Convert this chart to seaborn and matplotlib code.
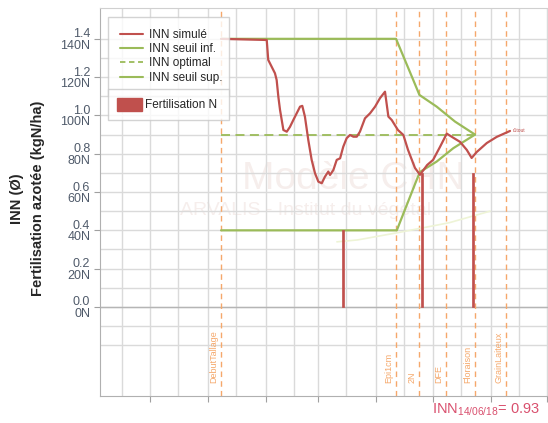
import numpy as np
import pandas as pd
import seaborn as sns
import matplotlib.pyplot as plt
import matplotlib.dates as mdates
from matplotlib.lines import Line2D
from matplotlib.patches import Patch

# days counted from 1 Jan 2018
start = pd.Timestamp('2018-01-01')

red_days = [7, 31.4, 32.2, 34.0, 35.8, 36.7, 37.6, 38.5, 40.3, 42.1, 43.8, 45.6, 47.4,
            49.2, 50.4, 51.8, 53.6, 55.4, 57.2, 59.0, 60.8, 62.5, 64.3, 65.2, 67.0, 68.8,
            70.6, 72.3, 74.1, 75.9, 77.7, 79.5, 81.2, 83.9, 86.6, 89.3, 91.9, 94.6, 96.4,
            98.2, 101.5, 104.4, 106.9, 110.6, 113.3, 117.1, 120.3, 124.0, 127.6, 131.0,
            134.7, 138.3, 140.9, 143.6, 149.0, 154.3, 161.4]
red_inn = [1.40, 1.394, 1.29, 1.255, 1.22, 1.185, 1.098, 1.029, 0.924, 0.915, 0.94, 0.976,
           1.011, 1.046, 1.05, 0.994, 0.872, 0.768, 0.698, 0.654, 0.646, 0.680, 0.707,
           0.689, 0.715, 0.768, 0.776, 0.837, 0.881, 0.898, 0.889, 0.889, 0.915, 0.985,
           1.011, 1.046, 1.090, 1.124, 0.994, 0.976, 0.924, 0.898, 0.820, 0.726, 0.690,
           0.741, 0.768, 0.836, 0.905, 0.884, 0.862, 0.820, 0.778, 0.809, 0.856, 0.888,
           0.919]

sup_days = [7, 100.5, 109.7, 113.0, 122.2, 132.0, 142.7]
sup_inn = [1.40, 1.40, 1.185, 1.107, 1.046, 0.968, 0.90]

inf_days = [7, 100.9, 111.5, 113.3, 122.2, 131.1, 142.7]
inf_inn = [0.40, 0.40, 0.663, 0.705, 0.759, 0.829, 0.90]

opt_days = [7, 142.7]
opt_inn = [0.90, 0.90]

faint_days = [68.9, 80, 102.6, 129, 150.7]
faint_inn = [0.34, 0.35, 0.39, 0.44, 0.50]

fert_days = [72.2, 114.4, 141.6]
fert_n = [40, 70, 70]
fert_w = [1.4, 0.6, 1.4]

stades = ['DebutTallage', 'Epi1cm', '2N', 'DFE', 'Floraison', 'GrainLaiteux']
stade_days = [6.9, 100.5, 112.8, 127.2, 142.7, 159.3]

yticks = [0.0, 0.2, 0.4, 0.6, 0.8, 1.0, 1.2, 1.4]
ylabels = ['0.0\n0N', '0.2\n20N', '0.4\n40N', '0.6\n60N', '0.8\n80N',
           '1.0\n100N', '1.2\n120N', '1.4\n140N']


def to_dates(days):
    return start + pd.to_timedelta(np.asarray(days, dtype=float), unit='D')


sns.set_style('white')
plt.rcParams['font.family'] = ['Liberation Sans', 'DejaVu Sans']

red = '#c0504d'
green = '#9bbb59'
orange = '#f5a86b'
grid_c = '#dadada'

fig = plt.figure(figsize=(5.48, 4.23), dpi=100)
ax = fig.add_axes([100 / 548, 27 / 423, 448 / 548, 388 / 423])

# watermark
ax.text(0.565, 0.56, 'Modèle CHN', transform=ax.transAxes, fontsize=28,
        color='#f6eeec', ha='center', va='center', zorder=0)
ax.text(0.458, 0.477, 'ARVALIS - Institut du végétal', transform=ax.transAxes,
        fontsize=14, color='#f6eeec', ha='center', va='center', zorder=0)

for d in stade_days:
    ax.axvline(to_dates([d])[0], color=orange, lw=1, dashes=(4, 3), zorder=2)
for name, d in zip(stades, stade_days):
    ax.annotate(name, (to_dates([d])[0], -0.395), xytext=(-2, 0), textcoords='offset points',
                rotation=90, ha='right', va='bottom', fontsize=6.5, color=orange)

sns.lineplot(x=to_dates(faint_days), y=faint_inn, ax=ax, color='#eef4d6', lw=1.2, zorder=2)
sns.lineplot(x=to_dates(inf_days), y=inf_inn, ax=ax, color=green, lw=1.6, zorder=3)
sns.lineplot(x=to_dates(sup_days), y=sup_inn, ax=ax, color=green, lw=1.6, zorder=3)
sns.lineplot(x=to_dates(opt_days), y=opt_inn, ax=ax, color=green, lw=1.3,
             dashes=(5, 3), zorder=3)
ax.bar(to_dates(fert_days), np.array(fert_n) / 100, width=fert_w, color=red,
       edgecolor=red, linewidth=0.5, zorder=4)
sns.lineplot(x=to_dates(red_days), y=red_inn, ax=ax, color=red, lw=1.6, zorder=5)
ax.annotate('r1tout', (to_dates([red_days[-1]])[0], red_inn[-1]), xytext=(2, 0),
            textcoords='offset points', fontsize=3.5, color=red, va='center')

ax.set_xlim(to_dates([-57.7])[0], to_dates([181.7])[0])
ax.set_ylim(-0.465, 1.561)
ax.xaxis.set_major_locator(mdates.MonthLocator())
ax.xaxis.set_minor_locator(mdates.MonthLocator(bymonthday=16))
ax.xaxis.set_major_formatter(plt.NullFormatter())
ax.set_yticks(yticks)
ax.set_yticklabels(ylabels, fontsize=9, color='#4f5a6a', linespacing=0.95)
ax.set_yticks(np.round(np.arange(-0.2, 1.45, 0.1), 2), minor=True)
ax.grid(True, which='both', color=grid_c, lw=1)
ax.set_axisbelow(True)
ax.tick_params(axis='x', which='major', direction='out', length=4, color='#a0a0a0', bottom=True)
ax.tick_params(axis='x', which='minor', length=0)
ax.tick_params(axis='y', which='major', direction='out', length=4, color='#a0a0a0', left=True, pad=3)
ax.tick_params(axis='y', which='minor', length=0)
ax.axhline(0, color='#b5b5b5', lw=1, zorder=1)
ax.set_xlabel('')
ax.set_ylabel('')
for s in ['left', 'bottom']:
    ax.spines[s].set_color('#b0b0b0')
ax.spines['top'].set_color('#d0d0d0')
ax.spines['right'].set_visible(False)

h1 = [Line2D([], [], color=red, lw=1.5),
      Line2D([], [], color=green, lw=1.5),
      Line2D([], [], color=green, lw=1.3, dashes=(3, 2)),
      Line2D([], [], color=green, lw=1.5)]
l1 = ax.legend(h1, ['INN simulé', 'INN seuil inf.', 'INN optimal', 'INN seuil sup.'],
               loc='upper left', bbox_to_anchor=(0.018, 0.977, 0.27, 0.0), mode='expand',
               fontsize=8.5, frameon=True, fancybox=False, edgecolor='#c8c8c8',
               borderaxespad=0, handlelength=2.0, handletextpad=0.5,
               labelspacing=0.2, borderpad=1.0)
l1.get_frame().set_linewidth(1)
ax.add_artist(l1)
l2 = ax.legend([Patch(color=red)], ['Fertilisation N'], loc='upper left',
               bbox_to_anchor=(0.018, 0.791, 0.27, 0.0), mode='expand',
               fontsize=8.5, frameon=True, fancybox=False, edgecolor='#c8c8c8',
               borderaxespad=0, handlelength=2.1, handleheight=1.3, handletextpad=0.3,
               borderpad=0.75)
l2.get_frame().set_linewidth(1)

fig.text(17 / 548, 0.53, 'INN (Ø)', rotation=90, ha='center', va='center',
         fontsize=10.5, fontweight='bold')
fig.text(38 / 548, 0.53, 'Fertilisation azotée (kgN/ha)', rotation=90, ha='center',
         va='center', fontsize=10.5, fontweight='bold')
fig.text(540 / 548, 1 - 410 / 423, 'INN$_{\\mathregular{14/06/18}}$= 0.93', ha='right',
         va='center', fontsize=10.5, color='#d9506e')

fig.savefig('out.png', dpi=100)
